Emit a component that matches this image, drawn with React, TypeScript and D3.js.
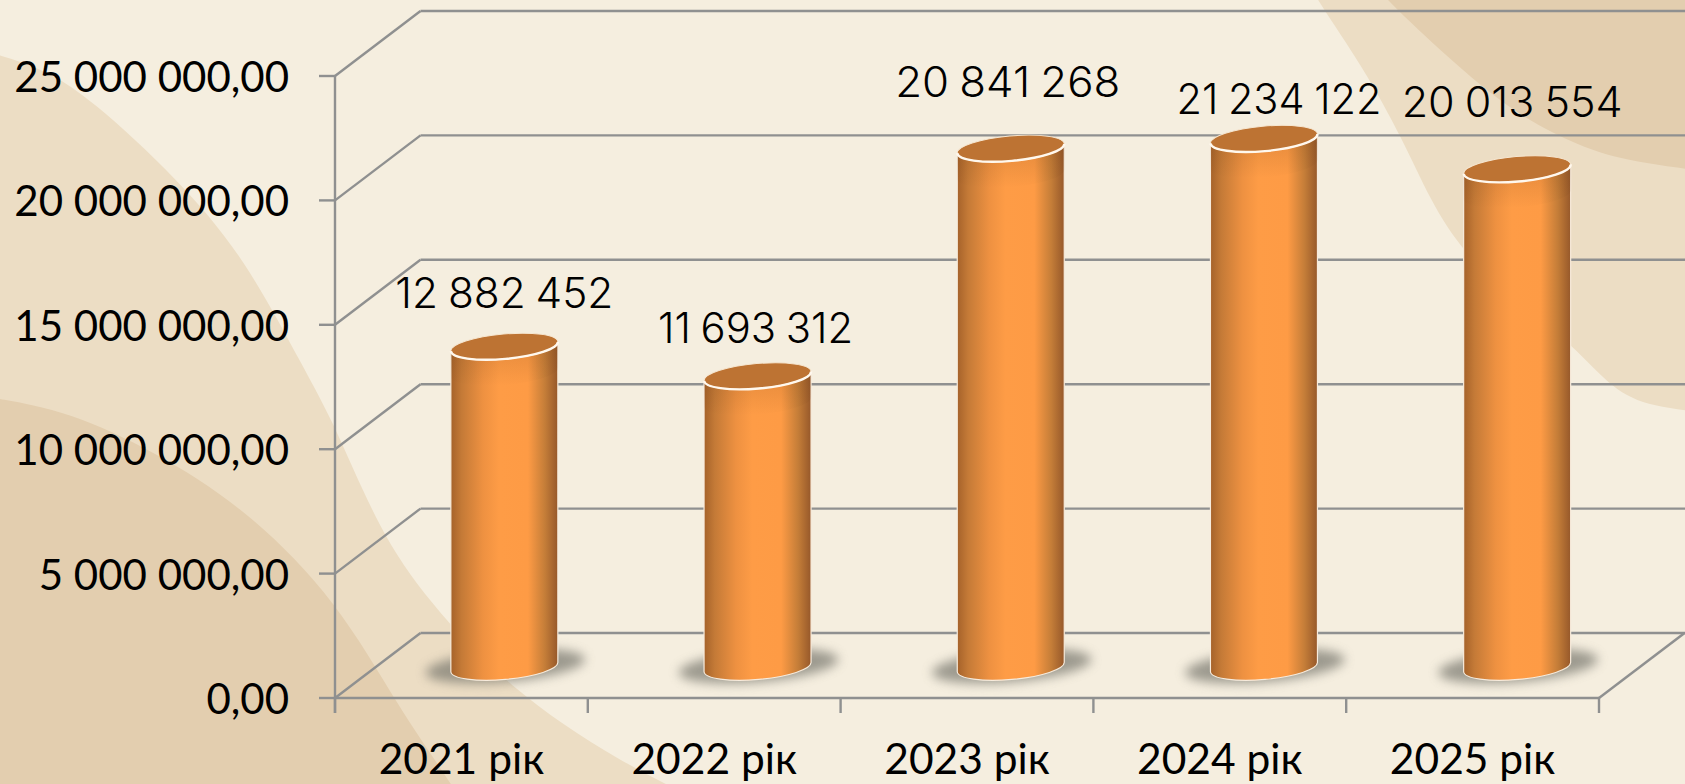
import React from "react";
import * as d3 from "d3";

// ---------- data ----------
const categories = ["2021 рік", "2022 рік", "2023 рік", "2024 рік", "2025 рік"];
const values = [12882452, 11693312, 20841268, 21234122, 20013554];
const valueLabels = ["12 882 452", "11 693 312", "20 841 268", "21 234 122", "20 013 554"];
const yTicks = [0, 5000000, 10000000, 15000000, 20000000, 25000000];
const yTickLabels = ["0,00", "5 000 000,00", "10 000 000,00", "15 000 000,00", "20 000 000,00", "25 000 000,00"];

// ---------- layout ----------
const W = 1685, H = 784;
const X0 = 335, X1 = 1599, Y0 = 698, YT = 76;
const DX = 85.5, DY = 65;
const BAR_BASE_LIFT = 31, BAR_R = 53.5, RY = 12.5, ROT = -5;
const labelDx = [0, -2, -3, 15, -5];
const labelBaseline = [308, 343, 97, 114, 117];
const labelWidth = [218, 195, 225, 205, 221];

const bgLight: [number, number][] = [[-40, 45], [0, 55], [45, 70], [89, 97], [179, 180], [245, 258], [304, 369], [335, 425], [379, 530], [427, 600], [507, 687], [620, 763], [720, 810]];
const bgDark: [number, number][] = [[-40, 392], [0, 399], [67, 411], [156, 452], [245, 508], [337, 600], [400, 710], [447, 777], [480, 830]];
const bgTopLight: [number, number][] = [[1295, -40], [1317, 0], [1363, 67], [1403, 140], [1430, 200], [1463, 253], [1520, 305], [1573, 345], [1613, 390], [1650, 407], [1720, 414]];
const bgTopDark: [number, number][] = [[1355, -35], [1387, 0], [1447, 57], [1513, 113], [1580, 147], [1630, 162], [1720, 173]];

const smooth = d3.line().curve(d3.curveBasis);
const blobLeft = (pts: [number, number][]) => smooth(pts) + ` L-40,830 Z`;
const blobRight = (pts: [number, number][]) => smooth(pts) + ` L1720,-40 Z`;

export default function App() {
  const y = d3.scaleLinear().domain([0, 25000000]).range([Y0, YT]);
  const x = d3.scaleBand<string>().domain(categories).range([X0, X1]).padding(0);
  const barX = d3.scaleBand<string>().domain(categories).range([X0, X1 + 2]).padding(0);
  const bw = x.bandwidth();
  const grid = "#8f9090";
  const rad = (ROT * Math.PI) / 180;
  const erx = BAR_R / Math.cos(rad);
  const tilt = BAR_R * Math.tan(-rad);
  const axisFont = "Lato, Carlito, 'Open Sans', sans-serif";
  const barCx = (c: string) => barX(c)! + barX.bandwidth() / 2 + DX / 2;

  return (
    <svg width={W} height={H} viewBox={`0 0 ${W} ${H}`} style={{ position: "fixed", left: 0, top: 0, display: "block" }}>
      <defs>
        <linearGradient id="cyl" x1="0" x2="1" y1="0" y2="0">
          <stop offset="0" stopColor="#a5622a" />
          <stop offset="0.1" stopColor="#c47a37" />
          <stop offset="0.3" stopColor="#ee9141" />
          <stop offset="0.45" stopColor="#fe9c46" />
          <stop offset="0.72" stopColor="#fe9b45" />
          <stop offset="0.88" stopColor="#c47d38" />
          <stop offset="1" stopColor="#96582a" />
        </linearGradient>
        <linearGradient id="bevel" x1="0" x2="0" y1="0" y2="1">
          <stop offset="0" stopColor="#5a2f0a" stopOpacity="0.16" />
          <stop offset="1" stopColor="#5a2f0a" stopOpacity="0" />
        </linearGradient>
        <filter id="soft" x="-30%" y="-80%" width="160%" height="260%">
          <feGaussianBlur stdDeviation="5.5" />
        </filter>
      </defs>

      <rect x={0} y={0} width={W} height={H} fill="#f5eedf" />
      <path d={blobLeft(bgLight)} fill="#ecddc4" />
      <path d={blobLeft(bgDark)} fill="#e3ceaf" />
      <path d={blobRight(bgTopLight)} fill="#ecddc4" />
      <path d={blobRight(bgTopDark)} fill="#e3ceaf" />

      {/* walls and floor */}
      <g stroke={grid} strokeWidth={2.4} fill="none">
        {yTicks.map((t) => (
          <g key={t}>
            <line x1={X0 - 16} x2={X0} y1={y(t)} y2={y(t)} />
            <line x1={X0} y1={y(t)} x2={X0 + DX} y2={y(t) - DY} />
            <line x1={X0 + DX} x2={W} y1={y(t) - DY} y2={y(t) - DY} />
          </g>
        ))}
        <line x1={X0} x2={X0} y1={YT} y2={Y0 + 15} />
        <line x1={X0} x2={X1} y1={Y0} y2={Y0} />
        <line x1={X1} y1={Y0} x2={X1 + DX} y2={Y0 - DY} />
        {categories.map((c) => (
          <line key={c} x1={x(c)!} x2={x(c)!} y1={Y0} y2={Y0 + 15} />
        ))}
        <line x1={X1} x2={X1} y1={Y0} y2={Y0 + 15} />
      </g>

      {/* cylinders */}
      {categories.map((c, i) => {
        const cx = barCx(c);
        const base = Y0 - BAR_BASE_LIFT;
        const top = base - (Y0 - y(values[i]));
        const L = cx - BAR_R, R = cx + BAR_R;
        const body =
          `M${L},${top + tilt} L${L},${base + tilt} ` +
          `A${erx},${RY} ${ROT} 0 0 ${R},${base - tilt} ` +
          `L${R},${top - tilt} L${L},${top + tilt} Z`;
        const bevel =
          `M${L},${top + tilt} L${L},${top + tilt + 26} ` +
          `A${erx},${RY} ${ROT} 0 0 ${R},${top - tilt + 26} ` +
          `L${R},${top - tilt} L${L},${top + tilt} Z`;
        return (
          <g key={c}>
            <ellipse cx={cx + 1} cy={base - 1} rx={80} ry={16} transform={`rotate(${ROT} ${cx + 1} ${base - 1})`} fill="#7a7970" opacity={0.72} filter="url(#soft)" />
            <path d={body} fill="url(#cyl)" stroke="#f7ebdc" strokeWidth={1.2} />
            <path d={bevel} fill="url(#bevel)" />
            <ellipse cx={cx} cy={top} rx={erx} ry={RY} transform={`rotate(${ROT} ${cx} ${top})`} fill="#bd7333" stroke="#f6e6d0" strokeWidth={1} />
            <path d={`M${L},${top + tilt} A${erx},${RY} ${ROT} 0 0 ${R},${top - tilt}`} fill="none" stroke="#fff8ee" strokeWidth={2.4} />
          </g>
        );
      })}

      {/* y-axis labels */}
      {yTicks.map((t, i) => (
        <text key={t} x={289} y={y(t) + 16} textAnchor="end" fontFamily={axisFont} fontSize={42} fill="#000">
          {yTickLabels[i]}
        </text>
      ))}

      {/* category labels */}
      {categories.map((c) => (
        <text key={c} x={x(c)! + bw / 2} y={774} textAnchor="middle" fontFamily={axisFont} fontSize={42.5} fill="#000">
          {c}
        </text>
      ))}

      {/* value labels */}
      {categories.map((c, i) => (
        <text
          key={c}
          x={barCx(c) + labelDx[i]}
          y={labelBaseline[i]}
          textAnchor="middle"
          fontFamily="Inter, 'Open Sans', sans-serif"
          fontWeight={300}
          fontSize={42}
          wordSpacing={-2}
          textLength={labelWidth[i]}
          lengthAdjust="spacingAndGlyphs"
          fill="#000"
        >
          {valueLabels[i]}
        </text>
      ))}
    </svg>
  );
}
